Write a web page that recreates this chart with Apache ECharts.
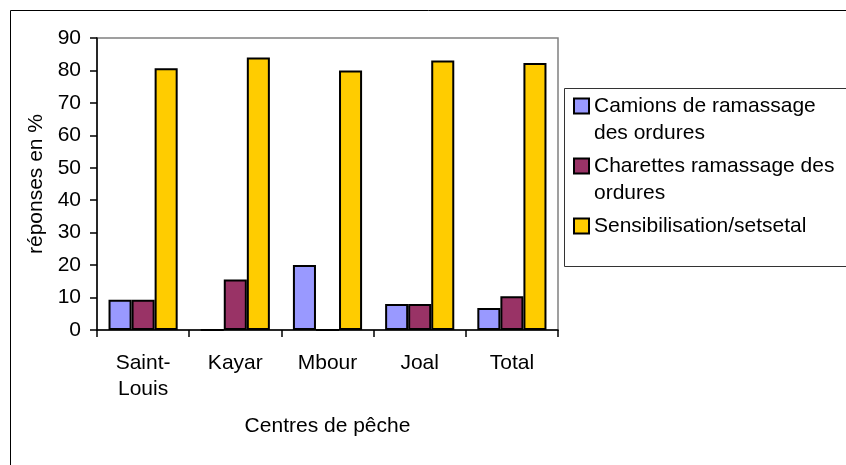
<!DOCTYPE html>
<html>
<head>
<meta charset="utf-8">
<script src="https://cdn.jsdelivr.net/npm/echarts@6/dist/echarts.min.js"></script>
<style>
html,body{margin:0;padding:0;background:#fff;}
#chart{width:846px;height:465px;}
</style>
</head>
<body>
<div id="chart"></div>
<script>
// ---- data ----
var categories = ['Saint-Louis', 'Kayar', 'Mbour', 'Joal', 'Total'];
var seriesNames = ['Camions de ramassage des ordures', 'Charettes ramassage des ordures', 'Sensibilisation/setsetal'];
var camions = [9.3, 0, 20, 8, 6.8];
var charettes = [9.3, 15.6, 0, 8, 10.4];
var sensibilisation = [80.7, 84, 80, 83.1, 82.3];
var yTicks = [0, 10, 20, 30, 40, 50, 60, 70, 80, 90];
var yAxisTitle = 'réponses en %';
var xAxisTitle = 'Centres de pêche';

var legendLabels = {
  'Camions de ramassage des ordures': 'Camions de ramassage\ndes ordures',
  'Charettes ramassage des ordures': 'Charettes ramassage des\nordures',
  'Sensibilisation/setsetal': 'Sensibilisation/setsetal\n '
};
var colors = ['#9999FF', '#993366', '#FFCC00'];
var values = [camions, charettes, sensibilisation];
var FONT = '"Liberation Sans", Arial, sans-serif';
var FS = 21;
// square icon placed at the top of a 15x42 box (aligned with first text line)
var ICON = 'path://M0 0L15 0L15 15L0 15Z M0 42L0 42';

var chart = echarts.init(document.getElementById('chart'), null, {renderer: 'canvas'});

var series = seriesNames.map(function (n, i) {
  return {
    name: n,
    type: 'bar',
    data: values[i],
    barGap: '0%',
    barCategoryGap: '25%',
    itemStyle: {color: colors[i], borderColor: '#000', borderWidth: 2},
    emphasis: {disabled: true},
    animation: false
  };
});

chart.setOption({
  animation: false,
  textStyle: {fontFamily: FONT},
  grid: {left: 97, top: 38, right: 288, bottom: 135, show: true, borderColor: '#808080', borderWidth: 1.5, backgroundColor: 'transparent'},
  legend: {
    orient: 'vertical',
    left: 573,
    top: 92.5,
    padding: 0,
    itemGap: 6,
    itemWidth: 15,
    itemHeight: 42,
    icon: ICON,
    selectedMode: false,
    itemStyle: {borderColor: '#000', borderWidth: 2},
    formatter: function (n) { return legendLabels[n]; },
    textStyle: {fontFamily: FONT, fontSize: FS, color: '#000', lineHeight: 27},
    data: seriesNames
  },
  xAxis: {
    type: 'category',
    data: categories,
    name: xAxisTitle,
    nameLocation: 'middle',
    nameGap: 86,
    nameTextStyle: {fontFamily: FONT, fontSize: FS, color: '#000'},
    axisLine: {lineStyle: {color: '#000', width: 1.5}},
    axisTick: {show: true, length: 7, lineStyle: {color: '#000', width: 1.5}},
    axisLabel: {
      color: '#000', fontFamily: FONT, fontSize: FS, lineHeight: 26, margin: 20, interval: 0,
      formatter: function (v) { return v.replace('-', '-\n'); }
    },
    splitLine: {show: false}
  },
  yAxis: {
    type: 'value',
    min: yTicks[0],
    max: yTicks[yTicks.length - 1],
    interval: yTicks[1] - yTicks[0],
    name: yAxisTitle,
    nameLocation: 'middle',
    nameGap: 47,
    nameTextStyle: {fontFamily: FONT, fontSize: FS, color: '#000'},
    axisLine: {show: true, lineStyle: {color: '#000', width: 1.5}},
    axisTick: {show: true, length: 7, lineStyle: {color: '#000', width: 1.5}},
    axisLabel: {color: '#000', fontFamily: FONT, fontSize: FS, margin: 16},
    splitLine: {show: false}
  },
  graphic: [
    {type: 'rect', z: -10, silent: true,
     shape: {x: 10.5, y: 10.5, width: 1000, height: 1000},
     style: {fill: 'none', stroke: '#000', lineWidth: 1}},
    {type: 'rect', z: -5, silent: true,
     shape: {x: 564.5, y: 88.5, width: 400, height: 178},
     style: {fill: '#fff', stroke: '#333', lineWidth: 1}}
  ],
  series: series
});
</script>
</body>
</html>
